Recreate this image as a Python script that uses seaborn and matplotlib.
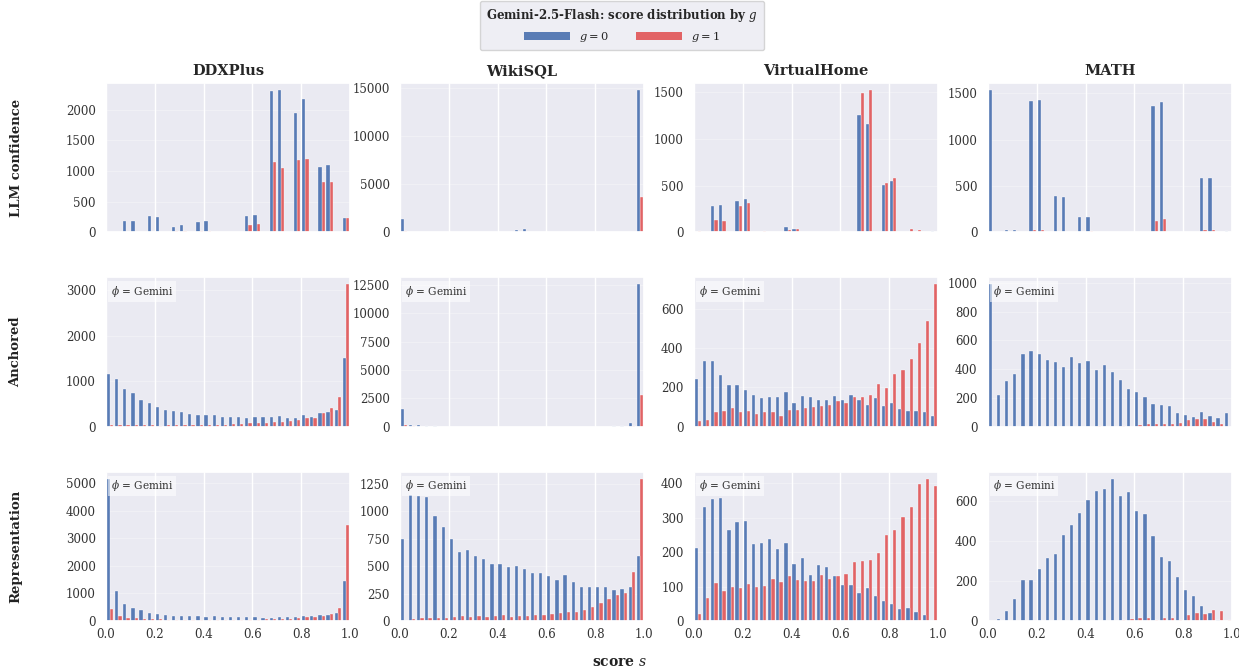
import numpy as np
import pandas as pd
import matplotlib
matplotlib.use("Agg")
import matplotlib.pyplot as plt
import seaborn as sns
from matplotlib.patches import Patch

# ---- layout of the grid -------------------------------------------------
datasets = ["DDXPlus", "WikiSQL", "VirtualHome", "MATH"]
methods = ["LLM confidence", "Anchored", "Representation"]
x_ticks = [0.0, 0.2, 0.4, 0.6, 0.8, 1.0]
x_tick_labels = ["0.0", "0.2", "0.4", "0.6", "0.8", "1.0"]
n_bins = 30

# ---- per-bin counts (30 equal bins on [0, 1]) for g=0 and g=1 ------------
# LLM confidence
llm_ddx_g0 = [0, 0, 180, 180, 0, 260, 250, 0, 90, 115, 0, 170, 180, 0, 0,
              0, 0, 260, 290, 0, 2310, 2320, 0, 1940, 2180, 0, 1060, 1100, 0, 235]
llm_ddx_g1 = [0, 0, 0, 0, 0, 0, 0, 0, 20, 20, 0, 20, 20, 0, 0,
              0, 0, 125, 135, 0, 1150, 1050, 0, 1175, 1190, 0, 815, 815, 0, 235]
llm_wiki_g0 = [1400, 0, 40, 30, 0, 0, 0, 0, 0, 0, 0, 0, 0, 0, 250,
               380, 0, 0, 0, 0, 0, 0, 0, 0, 0, 0, 30, 30, 0, 14800]
llm_wiki_g1 = [180, 0, 0, 0, 0, 0, 0, 0, 0, 0, 0, 0, 0, 0, 0,
               40, 0, 0, 0, 0, 0, 0, 0, 0, 0, 0, 0, 0, 0, 3650]
llm_vh_g0 = [0, 0, 280, 290, 0, 330, 355, 0, 0, 0, 0, 60, 40, 0, 0,
             0, 0, 0, 0, 0, 1250, 1155, 0, 505, 545, 0, 0, 0, 0, 12]
llm_vh_g1 = [12, 0, 130, 120, 0, 280, 310, 0, 12, 5, 0, 22, 30, 0, 0,
             0, 0, 0, 0, 0, 1490, 1520, 0, 530, 580, 0, 30, 22, 0, 0]
llm_math_g0 = [1535, 0, 20, 30, 0, 1420, 1430, 0, 395, 385, 0, 160, 170, 0, 0,
               0, 0, 0, 0, 0, 1365, 1410, 0, 0, 0, 0, 590, 590, 0, 12]
llm_math_g1 = [0, 0, 0, 0, 0, 30, 25, 0, 0, 0, 0, 0, 12, 0, 0,
               0, 0, 0, 0, 0, 125, 140, 0, 0, 0, 0, 25, 30, 0, 0]

# Anchored
anc_ddx_g0 = [1150, 1040, 825, 740, 590, 515, 435, 375, 340, 315, 280, 260, 260, 260, 205,
              205, 205, 185, 205, 220, 220, 235, 190, 200, 260, 220, 295, 320, 360, 1500]
anc_ddx_g1 = [30, 40, 40, 40, 40, 30, 20, 40, 40, 40, 30, 40, 45, 45, 45,
              60, 60, 70, 80, 90, 100, 110, 125, 145, 195, 180, 310, 420, 660, 3125]
anc_wiki_g0 = [1600, 180, 120, 50, 40, 0, 0, 0, 0, 0, 0, 0, 0, 0, 0,
               0, 0, 0, 0, 0, 0, 0, 0, 0, 0, 0, 40, 60, 300, 12560]
anc_wiki_g1 = [170, 30, 0, 0, 0, 0, 0, 0, 0, 0, 0, 0, 0, 0, 0,
               0, 0, 0, 0, 0, 0, 0, 0, 0, 0, 0, 0, 0, 100, 2810]
anc_vh_g0 = [241, 336, 336, 262, 214, 214, 188, 162, 148, 150, 150, 179, 123, 155, 152,
             134, 137, 156, 137, 160, 134, 110, 146, 106, 123, 92, 80, 80, 75, 56]
anc_vh_g1 = [30, 35, 76, 79, 97, 75, 79, 65, 74, 74, 56, 83, 83, 93, 99,
             103, 110, 129, 120, 151, 151, 160, 218, 196, 268, 291, 345, 428, 538, 726]
anc_math_g0 = [988, 221, 314, 367, 502, 528, 502, 460, 449, 416, 484, 442, 456, 393, 428,
               381, 326, 260, 240, 209, 160, 149, 142, 93, 81, 65, 105, 74, 63, 93]
anc_math_g1 = [0, 0, 0, 0, 0, 0, 0, 0, 0, 0, 0, 0, 0, 5, 0,
               0, 5, 0, 12, 15, 15, 20, 20, 25, 45, 55, 55, 30, 15, 0]

# Representation
rep_ddx_g0 = [5160, 1085, 615, 460, 385, 300, 240, 230, 195, 170, 170, 170, 130, 170, 130,
              130, 130, 130, 130, 110, 95, 130, 130, 130, 170, 170, 205, 215, 300, 1470]
rep_ddx_g1 = [420, 180, 95, 95, 70, 60, 60, 50, 50, 50, 50, 50, 50, 50, 50,
              50, 50, 50, 50, 60, 70, 60, 85, 110, 130, 130, 180, 240, 460, 3490]
rep_wiki_g0 = [747, 1149, 1140, 1134, 957, 860, 747, 625, 643, 591, 564, 521, 521, 491, 506,
               476, 442, 442, 409, 372, 415, 360, 314, 314, 314, 314, 280, 296, 314, 595]
rep_wiki_g1 = [0, 18, 24, 24, 24, 24, 34, 43, 34, 43, 34, 43, 58, 34, 49,
               43, 58, 58, 67, 73, 82, 82, 98, 128, 165, 204, 241, 253, 448, 1296]
rep_vh_g0 = [213, 330, 355, 357, 265, 288, 290, 224, 226, 239, 208, 228, 167, 183, 135,
             163, 157, 130, 104, 104, 80, 96, 74, 58, 48, 35, 38, 27, 18, 0]
rep_vh_g1 = [20, 68, 111, 86, 100, 97, 108, 99, 101, 123, 114, 130, 120, 117, 117,
             133, 121, 131, 138, 172, 173, 177, 197, 250, 265, 302, 330, 398, 413, 393]
rep_math_g0 = [0, 10, 48, 110, 202, 202, 258, 312, 332, 430, 477, 538, 603, 647, 655,
               708, 622, 640, 548, 533, 423, 318, 298, 218, 152, 127, 73, 38, 5, 0]
rep_math_g1 = [0, 0, 0, 0, 0, 0, 0, 0, 0, 0, 0, 0, 0, 0, 0,
               0, 5, 10, 13, 13, 7, 17, 17, 5, 30, 40, 35, 57, 48, 5]

panel_counts = {
    ("LLM confidence", "DDXPlus"): (llm_ddx_g0, llm_ddx_g1),
    ("LLM confidence", "WikiSQL"): (llm_wiki_g0, llm_wiki_g1),
    ("LLM confidence", "VirtualHome"): (llm_vh_g0, llm_vh_g1),
    ("LLM confidence", "MATH"): (llm_math_g0, llm_math_g1),
    ("Anchored", "DDXPlus"): (anc_ddx_g0, anc_ddx_g1),
    ("Anchored", "WikiSQL"): (anc_wiki_g0, anc_wiki_g1),
    ("Anchored", "VirtualHome"): (anc_vh_g0, anc_vh_g1),
    ("Anchored", "MATH"): (anc_math_g0, anc_math_g1),
    ("Representation", "DDXPlus"): (rep_ddx_g0, rep_ddx_g1),
    ("Representation", "WikiSQL"): (rep_wiki_g0, rep_wiki_g1),
    ("Representation", "VirtualHome"): (rep_vh_g0, rep_vh_g1),
    ("Representation", "MATH"): (rep_math_g0, rep_math_g1),
}

# ---- style ---------------------------------------------------------------
sns.set_theme(style="darkgrid")
plt.rcParams["font.family"] = ["DejaVu Serif"]
plt.rcParams["mathtext.fontset"] = "dejavuserif"

palette = {0: "#4C72B0", 1: "#E15759"}
bar_alpha = 0.92

fig = plt.figure(figsize=(12.39, 6.71), dpi=100)
axes = fig.subplots(3, 4, sharex=True)
fig.subplots_adjust(left=0.0856, right=0.9943, top=0.8763, bottom=0.0745,
                    wspace=0.205, hspace=0.302)

edges = np.linspace(0, 1, n_bins + 1)
centers = (edges[:-1] + edges[1:]) / 2

for r, method in enumerate(methods):
    for c, dataset in enumerate(datasets):
        ax = axes[r, c]
        g0, g1 = panel_counts[(method, dataset)]
        df = pd.DataFrame({
            "score": np.concatenate([centers, centers]),
            "count": np.concatenate([g0, g1]).astype(float),
            "g": [0] * n_bins + [1] * n_bins,
        })
        sns.histplot(data=df, x="score", weights="count", hue="g",
                     hue_order=[0, 1], bins=n_bins, binrange=(0, 1),
                     multiple="dodge", shrink=0.8, palette=palette,
                     alpha=bar_alpha, legend=False, ax=ax)
        ax.set_xlim(0, 1)
        ax.set_xticks(x_ticks)
        ax.set_xticklabels(x_tick_labels)
        ax.set_xlabel("")
        ax.set_ylabel("")
        ax.grid(axis="y", color="white", linewidth=0.7, alpha=0.3)
        ax.grid(axis="x", color="white", linewidth=1.0)
        ax.tick_params(axis="y", length=0, pad=7.5, labelsize=8.5, colors="#333333")
        ax.tick_params(axis="x", length=0, pad=5, labelsize=8.5, colors="#333333")
        if r == 0:
            ax.set_title(dataset, fontsize=10.5, fontweight="bold", pad=6)
        if r > 0:
            ax.text(0.02, 0.955, r"$\phi$ = Gemini", transform=ax.transAxes,
                    ha="left", va="top", fontsize=7.6, color="#333333",
                    bbox=dict(boxstyle="square,pad=0.25", facecolor="white",
                              edgecolor="none", alpha=0.55))

# row labels
for r, method in enumerate(methods):
    pos = axes[r, 0].get_position()
    fig.text(0.013, (pos.y0 + pos.y1) / 2, method, rotation=90,
             ha="center", va="center", fontsize=9.5, fontweight="bold",
             color="#222222")

# shared x label
fig.text(0.5, 0.003, "score $s$", ha="center", va="bottom",
         fontsize=10, fontweight="bold", color="#222222")

# legend
handles = [Patch(facecolor=palette[0], alpha=bar_alpha, edgecolor="none"),
           Patch(facecolor=palette[1], alpha=bar_alpha, edgecolor="none")]
fig.legend(handles, ["$g=0$", "$g=1$"], loc="upper center",
           bbox_to_anchor=(0.502, 1.0), borderaxespad=0.1, ncol=2, fontsize=8.2,
           title="Gemini-2.5-Flash: score distribution by $g$",
           title_fontproperties={"weight": "bold", "size": 8.5},
           handlelength=4.0, handleheight=0.6, columnspacing=2.4,
           frameon=True, borderpad=0.55)

fig.savefig("out.png", dpi=100)
